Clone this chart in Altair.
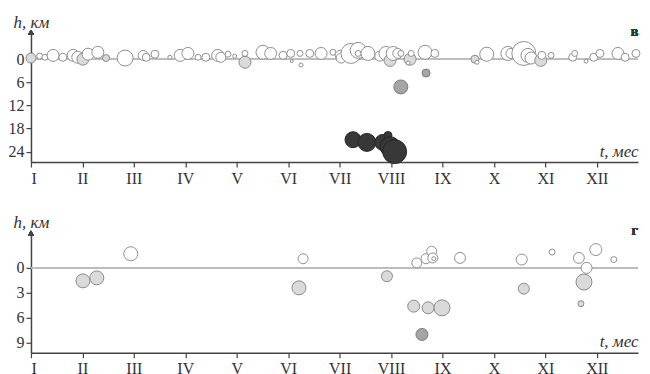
import altair as alt
import pandas as pd

months = ["I", "II", "III", "IV", "V", "VI", "VII", "VIII", "IX", "X", "XI", "XII"]

# Panel "в": time (months from start of January), depth h (km), size, class
top_t = [0.00, 0.17, 0.27, 0.43, 0.62, 0.82, 0.91, 1.01, 1.11, 1.30, 1.46, 1.83, 2.18, 2.24, 2.41,
         2.70, 2.90, 3.05, 3.25, 3.40, 3.63, 3.69, 3.83, 3.96, 4.16, 4.16, 4.51, 4.66, 4.90, 5.05,
         5.07, 5.25, 5.23, 5.42, 5.64, 5.87, 6.01, 6.03, 6.22, 6.36, 6.36, 6.55, 6.78, 6.90, 6.98,
         7.04, 7.13, 7.19, 7.37, 7.33, 7.39, 7.66, 7.85, 7.68, 7.19, 8.63, 8.67, 8.86, 9.27, 9.33,
         9.58, 9.66, 9.72, 9.91, 9.93, 10.11, 10.53, 10.57, 10.79, 10.94, 11.06, 11.41, 11.55, 11.76,
         6.26, 6.53, 6.84, 6.94, 6.98, 7.07]
top_h = [-0.3, -0.8, -0.5, -1.0, -0.5, -1.0, -0.5, 0.0, -1.3, -1.8, -0.3, -0.3, -1.0, -0.5, -1.3,
         -0.5, -1.0, -1.5, -0.5, -0.5, -1.0, -0.5, -1.3, -0.8, -1.5, 0.8, -1.8, -1.5, -1.0, -1.5,
         0.5, 1.5, -1.5, -1.5, -1.5, -1.8, -1.0, -0.3, -1.5, -2.3, -1.5, -1.5, -0.8, -1.5, 0.3,
         -1.5, -1.5, -1.5, 0.0, 1.0, -1.5, -1.8, -1.5, 3.6, 7.2, 0.0, 0.8, -1.3, -1.5, -1.5,
         -1.5, -1.0, -0.3, 0.3, -1.0, -1.0, -0.5, -1.5, 0.5, -0.5, -1.5, -1.5, -0.5, -1.5,
         20.9, 21.6, 21.6, 19.8, 22.7, 24.0]
top_m = [5, 3, 3, 6, 4, 6, 6, 6, 6, 6, 3.5, 8, 5, 4, 4,
         2, 6, 6, 3, 4, 6, 5, 3, 2, 3, 6, 7, 6, 4, 4,
         1.5, 2, 3, 4, 6, 3, 5, 5, 10, 8, 3, 7, 5, 7, 6,
         7, 5, 3, 6, 2, 3, 7, 4, 4, 7, 4, 2, 7, 7, 5,
         12, 7, 6, 6, 4, 3, 4, 3, 2, 4, 4, 6, 4, 4,
         8, 9, 8, 4, 10, 12]
top_c = ["l", "w", "w", "w", "w", "w", "w", "l", "w", "w", "l", "w", "w", "w", "w",
         "w", "w", "w", "w", "w", "w", "w", "w", "w", "w", "l", "w", "w", "w", "w",
         "w", "w", "w", "w", "w", "w", "w", "w", "w", "w", "w", "w", "w", "w", "l",
         "w", "w", "w", "l", "w", "w", "w", "w", "m", "m", "l", "w", "w", "w", "w",
         "w", "w", "w", "l", "w", "w", "w", "w", "w", "w", "w", "w", "w", "w",
         "d", "d", "d", "d", "d", "d"]

# Panel "г"
bot_t = [1.01, 1.28, 1.94, 5.29, 5.21, 6.92, 7.50, 7.68, 7.79, 7.81, 7.83, 8.34, 7.44, 7.72, 7.99,
         7.60, 9.54, 9.58, 10.13, 10.65, 10.80, 10.75, 10.98, 10.69, 11.33]
bot_h = [1.56, 1.2, -1.7, -1.1, 2.4, 1.0, -0.6, -1.1, -2.0, -1.2, -1.1, -1.2, 4.6, 4.8, 4.8,
         8.0, -1.0, 2.5, -1.9, -1.2, 0.0, 1.7, -2.2, 4.3, -1.0]
bot_m = [7, 7, 7, 5, 7, 5.5, 5, 5, 5, 5, 2, 5.5, 6, 6, 8,
         6, 5.5, 5.5, 3, 5.5, 5.5, 8, 6, 3, 3]
bot_c = ["l", "l", "w", "w", "l", "l", "w", "w", "w", "w", "w", "w", "l", "l", "l",
         "m", "w", "l", "w", "w", "w", "l", "w", "l", "w"]

classes = ["w", "l", "m", "d"]
fills = ["#ffffff", "#dadada", "#a5a5a5", "#383838"]
strokes = ["#8f8f8f", "#8a8a8a", "#7a7a7a", "#262626"]

FONT = "Liberation Serif"
W = 608
XMAX = 11.8


def panel(t, h, m, c, ydom, yticks, letter, height, letter_h):
    df = pd.DataFrame({"t": t, "h": h, "m": m, "c": c})
    xs = alt.Scale(domain=[0, XMAX], nice=False, zero=False)
    ys = alt.Scale(domain=ydom, reverse=True, nice=False, zero=False)
    xax = alt.Axis(values=list(range(12)),
                   labelExpr="%s[datum.value]" % str(months),
                   title="t, мес", titleX=W, titleY=-6, titleAlign="right",
                   titleBaseline="alphabetic", titleFontStyle="italic",
                   titleFontWeight="normal", titleFont=FONT, titleFontSize=17,
                   titleColor="#333", tickSize=5, labelPadding=3, labelOverlap=False)
    yax = alt.Axis(values=yticks, title="h, км", titleAngle=0, titleX=0, titleY=-5,
                   titleAlign="center", titleBaseline="alphabetic",
                   titleFontStyle="italic", titleFontWeight="normal", titleFont=FONT,
                   titleFontSize=17, titleColor="#333", tickSize=5, labelPadding=2,
                   labelOverlap=False, labelSeparation=0, tickCount=len(yticks))

    zero = alt.Chart(df).mark_rule(color="#bdbdbd", strokeWidth=1.5).encode(
        x=alt.XDatum(0, scale=xs, axis=xax), x2=alt.X2Datum(XMAX),
        y=alt.YDatum(0, scale=ys, axis=yax))
    pts = alt.Chart(df).mark_circle(opacity=1, strokeWidth=1).encode(
        x=alt.X("t:Q", scale=xs, axis=xax),
        y=alt.Y("h:Q", scale=ys, axis=yax),
        size=alt.Size("m:Q", scale=alt.Scale(type="pow", exponent=2, domain=[0, 12],
                                             range=[0, 576]), legend=None),
        fill=alt.Fill("c:N", scale=alt.Scale(domain=classes, range=fills), legend=None),
        stroke=alt.Stroke("c:N", scale=alt.Scale(domain=classes, range=strokes), legend=None),
    )
    arrow = alt.Chart(df).mark_point(shape="triangle-up", filled=True, size=28,
                                     color="#444", opacity=1).encode(
        x=alt.XDatum(0, scale=xs, axis=xax), y=alt.YDatum(ydom[0], scale=ys, axis=yax))
    lab = alt.Chart(df).mark_text(text=letter, font=FONT, fontSize=15, color="#333",
                                  baseline="middle", align="right").encode(
        x=alt.XDatum(XMAX, scale=xs, axis=xax), y=alt.YDatum(letter_h, scale=ys, axis=yax))
    return alt.layer(zero, pts, arrow, lab).properties(width=W, height=height)


top = panel(top_t, top_h, top_m, top_c, [-7, 26.7], [0, 6, 12, 18, 24], "в", 130, -7.3)
bot = panel(bot_t, bot_h, bot_m, bot_c, [-4.2, 10.2], [0, 3, 6, 9], "г", 120, -4.6)

chart = alt.vconcat(top, bot, spacing=28).properties(
    padding={"left": 0, "top": 5, "right": 0, "bottom": 0}
).configure_view(stroke=None).configure_axis(
    grid=False, domainColor="#444", domainWidth=1.5, tickColor="#444", tickWidth=1.2,
    labelFont=FONT, labelFontSize=16, labelColor="#333", labelOverlap=False
)

chart.save("out.html", embed_options={"renderer": "svg", "actions": False})
